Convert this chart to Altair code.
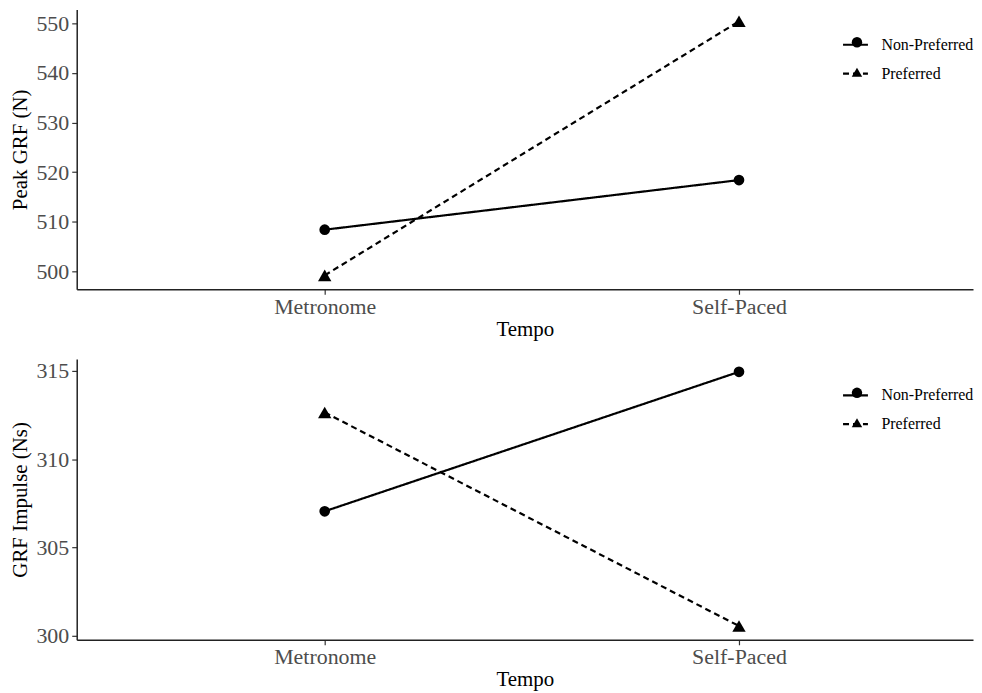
import altair as alt
import pandas as pd

tempo = ["Metronome", "Self-Paced"]
groups = ["Non-Preferred", "Preferred"]
peak_nonpref = [508.4, 518.4]
peak_pref = [499.2, 550.4]
impulse_nonpref = [307.05, 314.95]
impulse_pref = [312.65, 300.55]

peak_ticks = [500, 510, 520, 530, 540, 550]
impulse_ticks = [300, 305, 310, 315]

FONT = "Liberation Serif"


def make_df(nonpref, pref):
    rows = []
    for g, vals in zip(groups, [nonpref, pref]):
        for t, v in zip(tempo, vals):
            rows.append({"Tempo": t, "Group": g, "GroupS": g, "GroupZ": g, "value": v})
    return pd.DataFrame(rows)


def panel(df, ytitle, domain, ticks, lx, ly, h):
    x = alt.X("Tempo:N", sort=tempo, title="Tempo",
              scale=alt.Scale(type="point", padding=0.5817, align=0.5145),
              axis=alt.Axis(labelAngle=0, labelPadding=2, titlePadding=1))
    y = alt.Y("value:Q", title=ytitle,
              scale=alt.Scale(domain=domain, nice=False, zero=False),
              axis=alt.Axis(values=ticks, format="d", labelPadding=3, titlePadding=5))
    line = alt.Chart(df).mark_line(color="black", strokeWidth=2.2).encode(
        x=x, y=y,
        strokeDash=alt.StrokeDash(
            "Group:N",
            scale=alt.Scale(range=[[1, 0], [6, 4]]),
            legend=alt.Legend(title=None, orient="none", legendX=lx, legendY=ly,
                              symbolType="stroke", symbolSize=625, symbolStrokeWidth=2.2,
                              symbolStrokeColor="black", labelFont=FONT, labelFontSize=16,
                              labelColor="black", labelOffset=12, rowPadding=7, padding=0)))
    pts = alt.Chart(df).mark_point(filled=True, color="black", opacity=1).encode(
        x=x, y=y,
        shape=alt.Shape(
            "GroupS:N",
            scale=alt.Scale(range=["circle", "triangle-up"]),
            legend=alt.Legend(title=None, orient="none", legendX=lx + 7.5, legendY=ly + 3.5,
                              symbolFillColor="black", symbolStrokeColor="black",
                              symbolSize=110, labelExpr="''", labelFont=FONT,
                              labelFontSize=16, rowPadding=13, padding=0)),
        size=alt.Size("GroupZ:N", scale=alt.Scale(range=[115, 180]), legend=None))
    return alt.layer(line, pts).properties(width=900, height=h)


top = panel(make_df(peak_nonpref, peak_pref), "Peak GRF (N)", [496.4, 552.8],
            peak_ticks, 768, 21.5, 281)
bottom = panel(make_df(impulse_nonpref, impulse_pref), "GRF Impulse (Ns)", [299.77, 315.68],
               impulse_ticks, 768, 22.5, 282)

chart = alt.vconcat(top, bottom, spacing=20).resolve_scale(
    shape="independent", strokeDash="independent", size="independent"
).configure(
    padding={"left": 2, "top": 0, "right": 0, "bottom": 0},
    font=FONT,
).configure_axis(
    labelFont=FONT, labelFontSize=22, labelColor="#4d4d4d",
    titleFont=FONT, titleFontSize=21, titleColor="black", titleFontWeight="normal",
    domainColor="#222222", domainWidth=1.5, tickColor="#333333", tickSize=5,
    tickWidth=1.2, grid=False,
).configure_view(stroke=None)

chart.save("out.html", embed_options={"renderer": "svg", "actions": False})
